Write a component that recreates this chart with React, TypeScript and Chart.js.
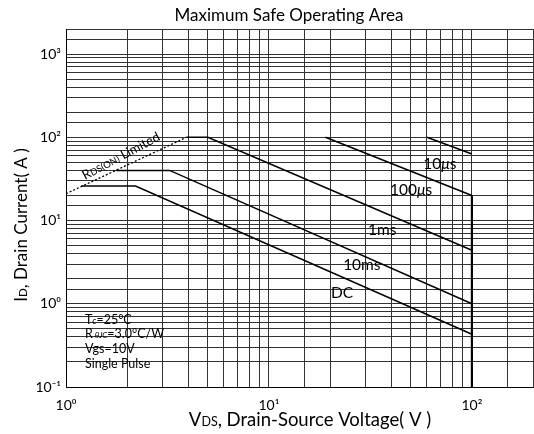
import React, { useEffect, useRef } from "react";
import { Chart, registerables } from "chart.js";

Chart.register(...registerables);

const FONT = "Lato, 'Open Sans', sans-serif";

// Axis ranges
const xMin = 1;
const xMax = 200;
const yMin = 0.1;
const yMax = 2000;

// Tick labels for powers of ten
const xTickValues = [1, 10, 100];
const xTickLabels = ["10\u2070", "10\u00B9", "10\u00B2"];
const yTickValues = [0.1, 1, 10, 100, 1000];
const yTickLabels = ["10\u207B\u00B9", "10\u2070", "10\u00B9", "10\u00B2", "10\u00B3"];

// Curves (VDS in V, ID in A)
const rdsLimitV = [1, 3.92];
const rdsLimitI = [21, 100];
const us10V = [60, 100];
const us10I = [100, 63];
const us100V = [19, 100];
const us100I = [100, 20];
const ms1V = [3.92, 5, 100];
const ms1I = [100, 100, 4.4];
const ms10V = [1.77, 3.24, 100];
const ms10I = [40, 40, 1];
const dcV = [1.19, 2.2, 100];
const dcI = [26, 26, 0.43];
const vdsMaxV = [100, 100];
const vdsMaxI = [20, 0.1];

// Curve labels anchored in data units (left edge, vertical centre)
const curveLabelText = ["10\u03BCs", "100\u03BCs", "1ms", "10ms", "DC"];
const curveLabelV = [57.6, 39.5, 30.8, 23.2, 20.2];
const curveLabelI = [47.8, 23.3, 7.7, 3.0, 1.36];

type Seg = { t: string; size: number; dy?: number; italic?: boolean };

function segFont(s: Seg) {
  return `${s.italic ? "italic " : ""}${s.size}px ${FONT}`;
}

function drawRich(ctx: CanvasRenderingContext2D, segs: Seg[], x: number, y: number, align: "left" | "center") {
  let w = 0;
  for (const s of segs) {
    ctx.font = segFont(s);
    w += ctx.measureText(s.t).width;
  }
  let cx = align === "center" ? x - w / 2 : x;
  ctx.textAlign = "left";
  ctx.textBaseline = "alphabetic";
  for (const s of segs) {
    ctx.font = segFont(s);
    ctx.fillText(s.t, cx, y + (s.dy || 0));
    cx += ctx.measureText(s.t).width;
  }
}

const pts = (xs: number[], ys: number[]) => xs.map((x, i) => ({ x, y: ys[i] }));

const textPlugin = {
  id: "soaText",
  afterDraw(chart: any) {
    const ctx: CanvasRenderingContext2D = chart.ctx;
    const xs = chart.scales.x;
    const ys = chart.scales.y;
    ctx.save();
    ctx.fillStyle = "#000";

    // Title
    drawRich(ctx, [{ t: "Maximum Safe Operating Area", size: 17 }], 289, 21, "center");

    // X title
    drawRich(
      ctx,
      [
        { t: "V", size: 18.5 },
        { t: "DS", size: 12.5 },
        { t: ", Drain-Source Voltage( V )", size: 18.5 },
      ],
      310,
      426,
      "center"
    );

    // Y title
    ctx.save();
    ctx.translate(27, 225);
    ctx.rotate(-Math.PI / 2);
    drawRich(
      ctx,
      [
        { t: "I", size: 17 },
        { t: "D", size: 11.5 },
        { t: ", Drain Current( A )", size: 17 },
      ],
      0,
      0,
      "center"
    );
    ctx.restore();

    // Curve labels
    for (let i = 0; i < curveLabelText.length; i++) {
      const px = xs.getPixelForValue(curveLabelV[i]);
      const py = ys.getPixelForValue(curveLabelI[i]);
      const txt = curveLabelText[i];
      const idx = txt.indexOf("\u03BC");
      if (idx >= 0) {
        drawRich(
          ctx,
          [
            { t: txt.slice(0, idx), size: 15.5 },
            { t: "\u03BC", size: 15.5, italic: true },
            { t: txt.slice(idx + 1), size: 15.5 },
          ],
          px,
          py + 5.5,
          "left"
        );
      } else {
        drawRich(ctx, [{ t: txt, size: 15.5 }], px, py + 5.5, "left");
      }
    }

    // Conditions block
    const ax = xs.getPixelForValue(1.24);
    const ay = ys.getPixelForValue(0.64) + 4;
    drawRich(ctx, [{ t: "T", size: 12.5 }, { t: "c", size: 9, italic: true }, { t: "=25\u00B0C", size: 12.5 }], ax, ay, "left");
    drawRich(
      ctx,
      [{ t: "R", size: 12.5 }, { t: " \u03B8JC", size: 8, italic: true }, { t: "=3.0\u00B0C/W", size: 12.5 }],
      ax,
      ay + 14,
      "left"
    );
    drawRich(ctx, [{ t: "Vgs=10V", size: 12.5 }], ax, ay + 29, "left");
    drawRich(ctx, [{ t: "Single Pulse", size: 12.5 }], ax, ay + 44, "left");

    // RDS(ON) Limited label
    ctx.save();
    ctx.translate(xs.getPixelForValue(1.24), ys.getPixelForValue(30.7));
    ctx.rotate((-28 * Math.PI) / 180);
    drawRich(
      ctx,
      [
        { t: "R", size: 13 },
        { t: "DS(ON)", size: 9.5 },
        { t: " Limited", size: 13 },
      ],
      0,
      0,
      "left"
    );
    ctx.restore();

    ctx.restore();
  },
};

const isPow10 = (v: number) => {
  const l = Math.log10(v);
  return Math.abs(l - Math.round(l)) < 1e-9;
};

export default function App() {
  const ref = useRef<HTMLCanvasElement | null>(null);

  useEffect(() => {
    if (!ref.current) return;
    const line = (data: any, extra: any = {}) => ({
      type: "line",
      data,
      borderColor: "#000",
      borderWidth: 1.5,
      pointRadius: 0,
      fill: false,
      tension: 0,
      ...extra,
    });
    const chart = new Chart(ref.current, {
      type: "line",
      data: {
        datasets: [
          line(pts(rdsLimitV, rdsLimitI), { borderDash: [2, 2], borderWidth: 1.3 }),
          line(pts(us10V, us10I)),
          line(pts(us100V, us100I)),
          line(pts(ms1V, ms1I)),
          line(pts(ms10V, ms10I)),
          line(pts(dcV, dcI)),
          line(pts(vdsMaxV, vdsMaxI), { borderWidth: 2.2 }),
        ] as any,
      },
      options: {
        animation: false,
        responsive: false,
        devicePixelRatio: 1,
        parsing: false as any,
        layout: { padding: { top: 29, right: 1, left: 0, bottom: 0 } },
        plugins: {
          legend: { display: false },
          tooltip: { enabled: false },
          title: { display: false },
        },
        scales: {
          x: {
            type: "logarithmic",
            min: xMin,
            max: xMax,
            border: { display: true, color: "#000", width: 1 },
            grid: { color: "#333", lineWidth: 1, drawTicks: false },
            ticks: {
              autoSkip: false,
              maxRotation: 0,
              padding: 10,
              color: "#000",
              font: { family: FONT, size: 14 },
              callback: (v: any) => {
                const i = xTickValues.findIndex((t) => Math.abs(Math.log10(t) - Math.log10(Number(v))) < 1e-9);
                return i >= 0 ? xTickLabels[i] : "";
              },
            },
            afterFit: (s: any) => {
              s.height = 47;
              s.paddingLeft = 0;
              s.paddingRight = 0;
            },
          },
          y: {
            type: "logarithmic",
            min: yMin,
            max: yMax,
            border: { display: true, color: "#000", width: 1 },
            grid: { color: "#333", lineWidth: 1, drawTicks: false },
            ticks: {
              autoSkip: false,
              padding: 5,
              color: "#000",
              font: { family: FONT, size: 14 },
              callback: (v: any) => {
                if (!isPow10(Number(v))) return "";
                const i = yTickValues.findIndex((t) => Math.abs(Math.log10(t) - Math.log10(Number(v))) < 1e-9);
                return i >= 0 ? yTickLabels[i] : "";
              },
            },
            afterFit: (s: any) => {
              s.width = 66;
              s.paddingTop = 0;
              s.paddingBottom = 0;
            },
          },
        },
      } as any,
      plugins: [textPlugin],
    });
    return () => chart.destroy();
  }, []);

  return (
    <div style={{ position: "fixed", left: 0, top: 0, width: 534, height: 434, background: "#fff" }}>
      <canvas ref={ref} width={534} height={434} style={{ width: 534, height: 434, display: "block" }} />
    </div>
  );
}
